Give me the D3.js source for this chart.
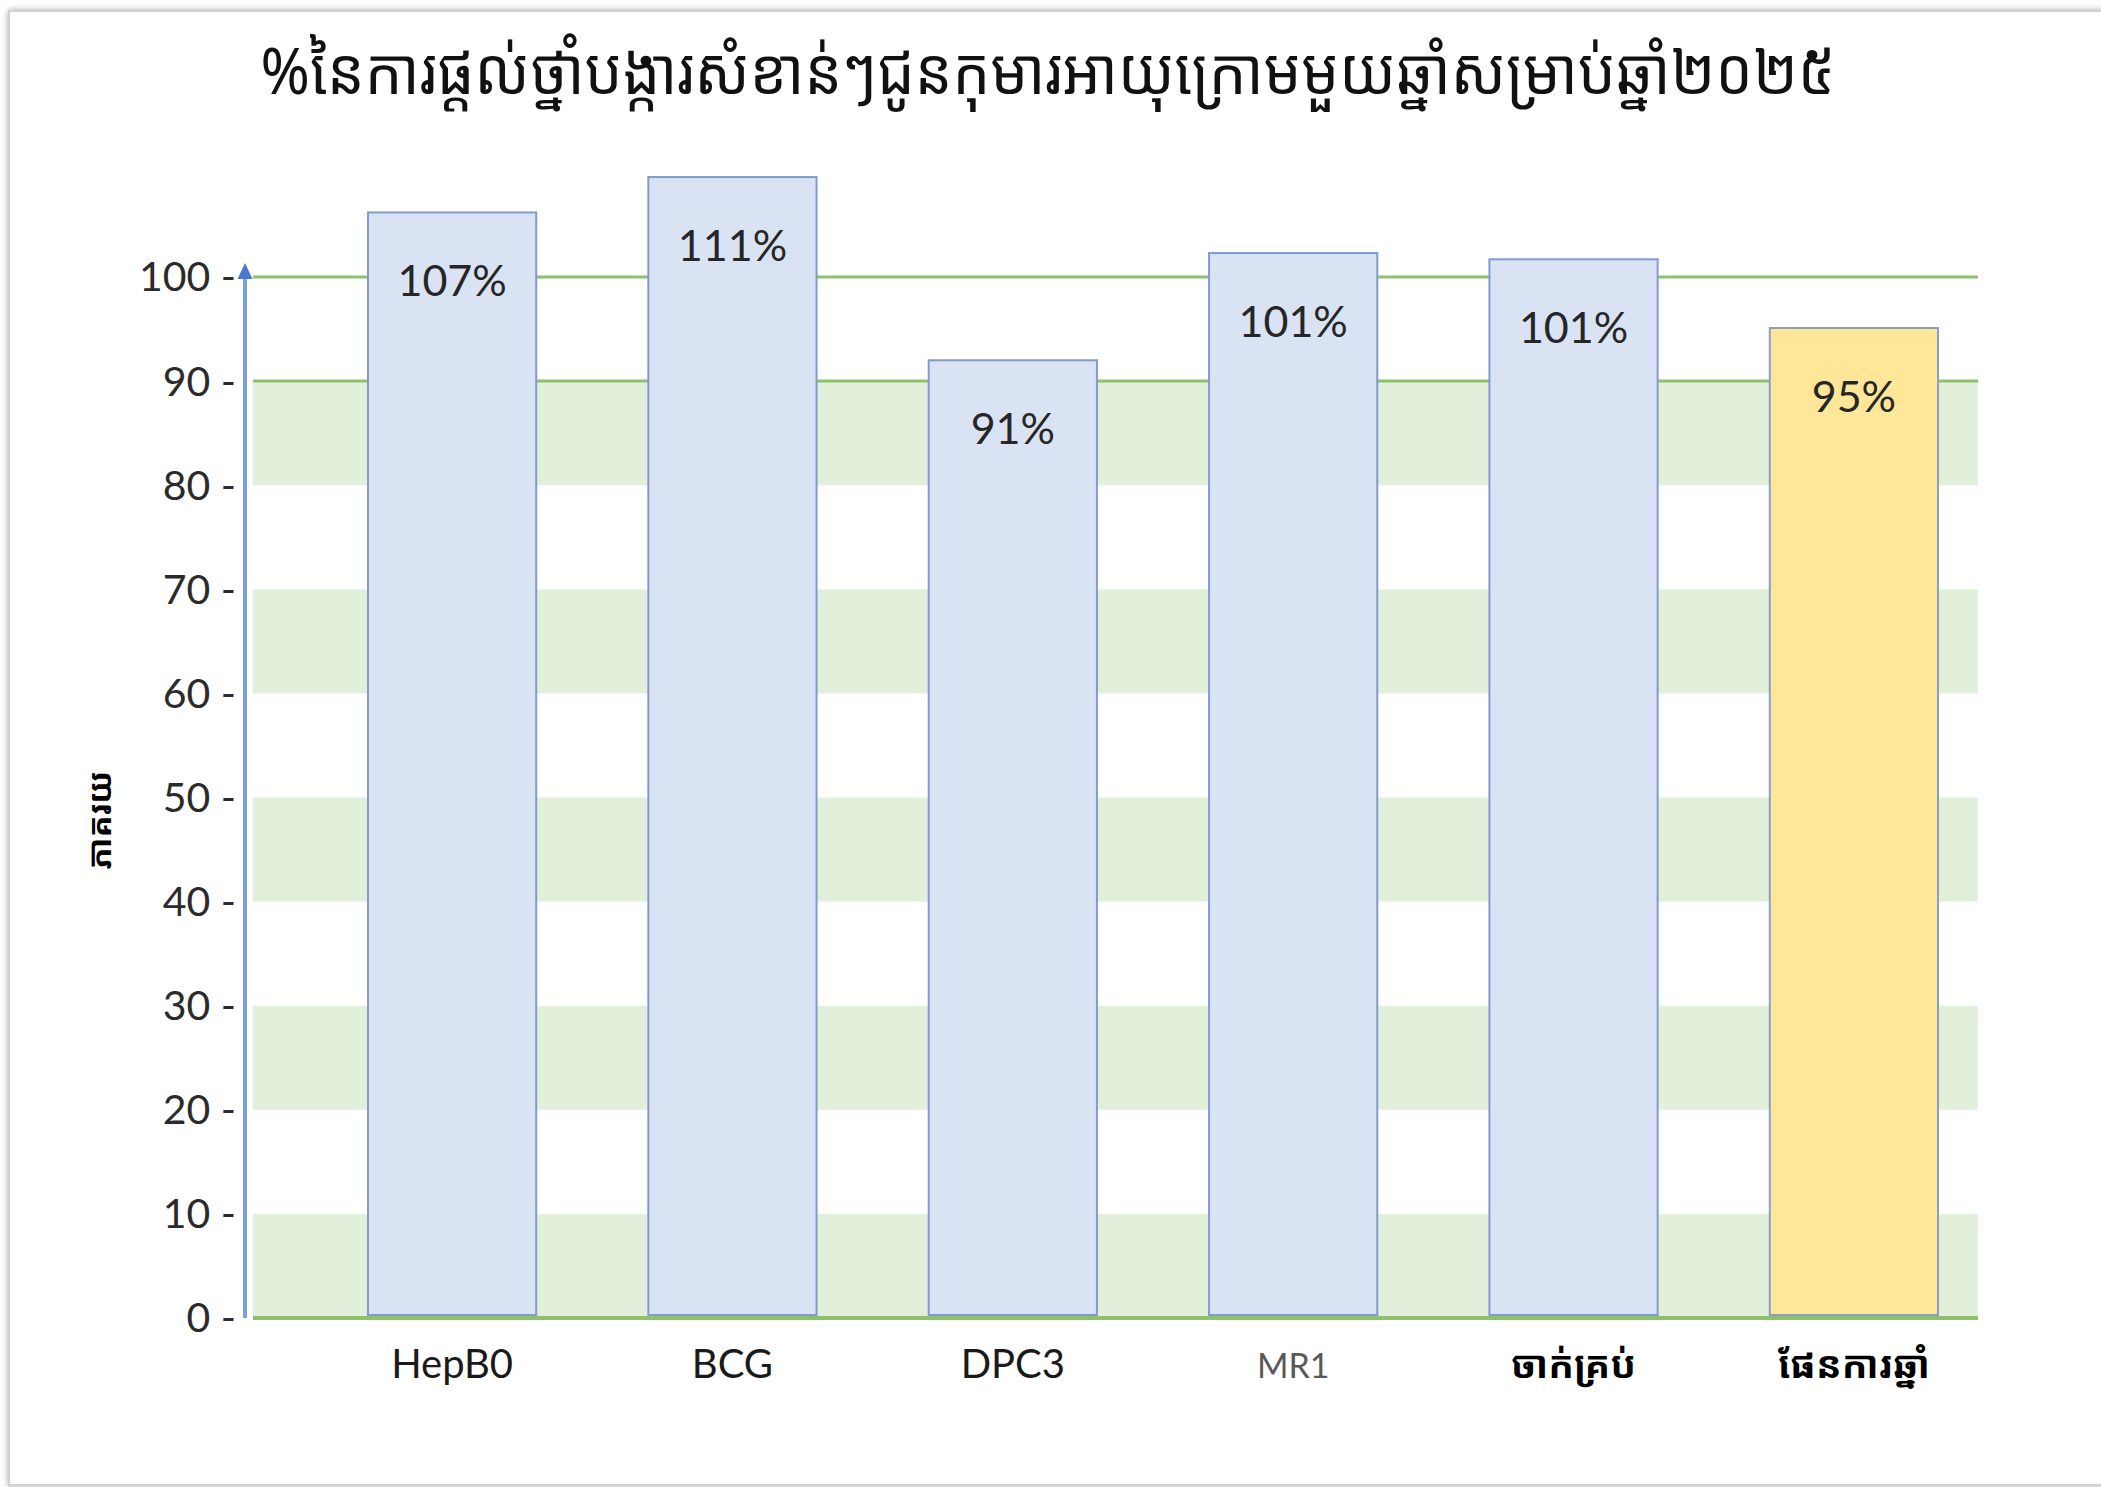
<!DOCTYPE html>
<html>
<head>
<meta charset="utf-8">
<script src="https://cdn.jsdelivr.net/npm/d3@7"></script>
<style>
  html, body { margin: 0; padding: 0; background: #ffffff; }
  svg { display: block; }
</style>
</head>
<body>
<svg id="chart" width="2101" height="1487"></svg>
<script>
// ---- data ----
const titleText = "%នៃការផ្តល់ថ្នាំបង្ការសំខាន់ៗជូនកុមារអាយុក្រោមមួយឆ្នាំសម្រាប់ឆ្នាំ២០២៥";
const yAxisTitle = "ភាគរយ";
const categories = ["HepB0", "BCG", "DPC3", "MR1", "ចាក់គ្រប់", "ផែនការឆ្នាំ"];
// bar heights as drawn in the picture
const values = [106.2, 109.6, 92.0, 102.3, 101.7, 95.1];
// data labels printed on the bars
const valueLabels = ["107%", "111%", "91%", "101%", "101%", "95%"];
const yTicks = [0, 10, 20, 30, 40, 50, 60, 70, 80, 90, 100];
const bandStarts = [0, 20, 40, 60, 80];
const refLines = [90, 100];

// ---- layout ----
const svg = d3.select("#chart");
const gridX0 = 253, gridX1 = 1978;
const y = d3.scaleLinear().domain([0, 100]).range([1318, 277]);
const x = d3.scaleBand().domain(categories).range([368, 1938]).paddingInner(0.4).paddingOuter(0);

const khmer = "'Noto Sans Khmer', 'Khmer OS', 'Khmer OS System', 'Noto Serif Khmer', 'Noto Sans', sans-serif";
const latin = "Lato, 'Open Sans', sans-serif";

// frame with soft shadow
const defs = svg.append("defs");
const f = defs.append("filter").attr("id", "sh").attr("x", "-5%").attr("y", "-5%").attr("width", "110%").attr("height", "110%");
f.append("feGaussianBlur").attr("in", "SourceAlpha").attr("stdDeviation", 3);
f.append("feOffset").attr("dx", 0).attr("dy", 0).attr("result", "b");
f.append("feComponentTransfer").append("feFuncA").attr("type", "linear").attr("slope", 0.35);
const fm = f.append("feMerge"); fm.append("feMergeNode"); fm.append("feMergeNode").attr("in", "SourceGraphic");

svg.append("rect").attr("x", 9).attr("y", 11).attr("width", 2200).attr("height", 1474)
  .attr("fill", "#ffffff").attr("stroke", "#d2d2d2").attr("stroke-width", 2).attr("filter", "url(#sh)");

// title
svg.append("text")
  .attr("x", 1048).attr("y", 94)
  .attr("text-anchor", "middle")
  .attr("font-family", khmer)
  .attr("font-size", 64)
  .attr("fill", "#111")
  .attr("textLength", 1575).attr("lengthAdjust", "spacingAndGlyphs")
  .text(titleText);

// green bands
svg.append("g").selectAll("rect").data(bandStarts).join("rect")
  .attr("x", gridX0).attr("width", gridX1 - gridX0)
  .attr("y", d => y(d + 10)).attr("height", d => y(d) - y(d + 10))
  .attr("fill", "#e2efda");

// reference lines
svg.append("g").selectAll("line").data(refLines).join("line")
  .attr("x1", gridX0).attr("x2", gridX1)
  .attr("y1", d => y(d)).attr("y2", d => y(d))
  .attr("stroke", "#8cc26a").attr("stroke-width", 3);

// baseline
svg.append("line").attr("x1", gridX0).attr("x2", gridX1)
  .attr("y1", y(0)).attr("y2", y(0))
  .attr("stroke", "#8cc26a").attr("stroke-width", 4);

// bars
svg.append("g").selectAll("rect").data(categories).join("rect")
  .attr("x", d => x(d)).attr("width", x.bandwidth())
  .attr("y", (d, i) => y(values[i])).attr("height", (d, i) => y(0) - 3 - y(values[i]))
  .attr("fill", (d, i) => i === categories.length - 1 ? "#ffe699" : "#dae3f3")
  .attr("stroke", (d, i) => i === categories.length - 1 ? "#8a9fc4" : "#7f9bd0")
  .attr("stroke-width", 2);

// value labels
svg.append("g").selectAll("text").data(categories).join("text")
  .attr("x", d => x(d) + x.bandwidth() / 2)
  .attr("y", (d, i) => y(values[i]) + 84)
  .attr("text-anchor", "middle")
  .attr("font-family", latin).attr("font-size", 43)
  .attr("fill", "#262626")
  .text((d, i) => valueLabels[i]);

// y axis (labels)
const yAxis = d3.axisLeft(y).tickValues(yTicks).tickSize(0).tickPadding(0).tickFormat(d => d + " -");
const ga = svg.append("g").attr("transform", "translate(236,0)").call(yAxis);
ga.select(".domain").remove();
ga.selectAll("text").attr("font-family", latin).attr("font-size", 41).attr("fill", "#2b2b2b").attr("dy", "0.34em");

// blue axis line with arrow
svg.append("line").attr("x1", 245).attr("x2", 245).attr("y1", y(0)).attr("y2", 276)
  .attr("stroke", "#7b9fe0").attr("stroke-width", 4);
svg.append("path").attr("d", `M245,263 L237.5,279 L252.5,279 Z`).attr("fill", "#4a78d0");

// y axis title
svg.append("text")
  .attr("transform", "translate(111,820) rotate(-90)")
  .attr("text-anchor", "middle")
  .attr("font-family", khmer).attr("font-size", 33).attr("font-weight", "bold")
  .attr("fill", "#000")
  .text(yAxisTitle);

// x labels
svg.append("g").selectAll("text").data(categories).join("text")
  .attr("x", d => x(d) + x.bandwidth() / 2)
  .attr("y", 1378)
  .attr("text-anchor", "middle")
  .attr("font-family", (d, i) => i >= 4 ? khmer : latin)
  .attr("font-weight", (d, i) => i >= 4 ? "bold" : "normal")
  .attr("font-size", (d, i) => i === 3 ? 34 : (i >= 4 ? 38 : 40))
  .attr("fill", (d, i) => i === 3 ? "#595959" : (i >= 4 ? "#000" : "#1a1a1a"))
  .text(d => d);
</script>
</body>
</html>
